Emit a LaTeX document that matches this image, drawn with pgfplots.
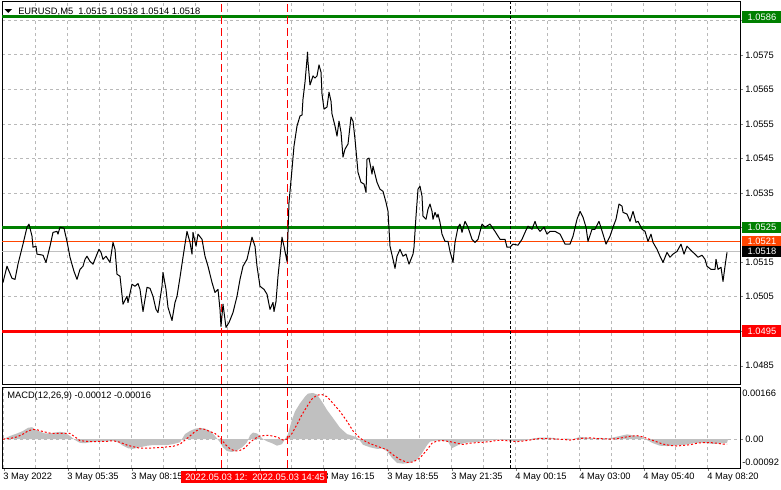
\documentclass[border=0pt]{standalone}
\usepackage{pgfplots}
\pgfplotsset{compat=1.18}
\usepackage{fontspec}
\setmainfont{Liberation Sans}
\definecolor{mtgreen}{RGB}{0,128,0}
\definecolor{mtorange}{RGB}{255,69,0}
\definecolor{mtred}{RGB}{255,0,0}
\definecolor{mtgrid}{RGB}{185,185,185}
\definecolor{mtsilver}{RGB}{192,192,192}
\newcommand\lab{\fontsize{7}{8.4}\selectfont}
\pgfplotsset{
  mt/.style={
    scale only axis, width=553.5pt, xmin=2, xmax=740, clip=false,
    axis line style={line width=0.75pt},
    scaled y ticks=false,
    tick align=outside, major tick length=2.25pt,
    ytick pos=right, yticklabel pos=right,
    yticklabel style={font=\lab, anchor=west, inner sep=0pt, xshift=1.5pt},
    grid style={mtgrid, line width=0.6pt, dash pattern=on 2.25pt off 2.25pt},
  },
}
\tikzset{
  lvl/.style={anchor=west, inner sep=0pt, minimum height=8.5pt, minimum width=29.5pt, font=\lab, text=white, xshift=1.5pt},
}
\begin{document}
\begin{tikzpicture}
\useasboundingbox (0,0) rectangle (585.75pt,-366.75pt);
\fill[white] (0,0) rectangle (585.75pt,-366.75pt);

% price panel
\begin{axis}[mt,
  at={(1.5pt,-0.75pt)}, anchor=north west, height=287.25pt,
  ymin=1.04797, ymax=1.05906,
  xmajorticks=false, xmajorgrids,
  xtick={35.7,67.7,99.7,131.7,163.7,195.7,227.7,259.7,291.7,323.7,355.7,387.7,419.7,451.7,483.7,515.7,547.7,579.7,611.7,643.7,675.7,707.7},
  ytick={1.0485,1.0495,1.0505,1.0515,1.0525,1.0535,1.0545,1.0555,1.0565,1.0575,1.0585},
  yticklabels={1.0485,{},1.0505,1.0515,{},1.0535,1.0545,1.0555,1.0565,1.0575,{}},
  ymajorgrids,
]
% levels
\addplot[mtsilver, line width=0.75pt] coordinates {(2,1.0518) (740,1.0518)};
\addplot[mtorange, line width=0.75pt] coordinates {(2,1.0521) (740,1.0521)};
\addplot[mtgreen, line width=2.25pt] coordinates {(2,1.0525) (740,1.0525)};
\addplot[mtgreen, line width=2.25pt] coordinates {(2,1.0586) (740,1.0586)};
\addplot[mtred, line width=2.25pt] coordinates {(2,1.0495) (740,1.0495)};
% vertical markers
\addplot[mtred, line width=0.75pt, dash pattern=on 6pt off 3pt] coordinates {(221,1.04797) (221,1.05906)};
\addplot[mtred, line width=0.75pt, dash pattern=on 6pt off 3pt] coordinates {(287,1.04797) (287,1.05906)};
\addplot[black, line width=0.75pt, dash pattern=on 2.25pt off 1.5pt] coordinates {(510,1.04797) (510,1.05906)};
% EURUSD M5 close
\addplot[black, line width=0.75pt, line join=round] coordinates {
(3,1.05091)(7,1.05138)(12,1.05103)(15,1.05100)(18,1.05144)(23,1.05202)(27,1.05251)(29,1.05260)(32,1.05225)(33,1.05193)
(36,1.05196)(37,1.05173)(43,1.05170)(46,1.05149)(50,1.05196)(53,1.05236)(57,1.05239)(58,1.05231)(60,1.05251)(64,1.05248)
(67,1.05210)(70,1.05164)(74,1.05123)(77,1.05100)(80,1.05129)(83,1.05138)(85,1.05158)(87,1.05167)(90,1.05152)(93,1.05144)
(97,1.05173)(99,1.05187)(101,1.05178)(103,1.05158)(106,1.05167)(108,1.05158)(110,1.05149)(113,1.05207)(115,1.05187)(117,1.05115)
(120,1.05109)(123,1.05028)(127,1.05051)(128,1.05033)(132,1.05086)(135,1.05080)(138,1.05088)(140,1.05071)(143,1.05007)(147,1.05077)
(150,1.05074)(153,1.05051)(156,1.05013)(158,1.05004)(162,1.05080)(163,1.05120)(166,1.05071)(168,1.05019)(172,1.04981)(175,1.05033)
(177,1.05051)(180,1.05106)(183,1.05164)(185,1.05202)(187,1.05239)(190,1.05207)(192,1.05173)(193,1.05236)(196,1.05196)(198,1.05231)
(202,1.05216)(205,1.05167)(208,1.05138)(212,1.05091)(215,1.05062)(218,1.05071)(220,1.05013)(221,1.04964)(223,1.05028)(226,1.04961)
(229,1.04975)(233,1.05004)(237,1.05051)(240,1.05100)(243,1.05138)(247,1.05158)(250,1.05196)(252,1.05222)(255,1.05196)(257,1.05138)
(260,1.05080)(264,1.05071)(267,1.05057)(270,1.05013)(273,1.05033)(274,1.05007)(276,1.05036)(278,1.05109)(282,1.05222)(284,1.05196)
(287,1.05152)(289,1.05323)(292,1.05419)(294,1.05486)(297,1.05544)(300,1.05573)(302,1.05576)(303,1.05622)(305,1.05671)(307,1.05738)
(307.5,1.05758)(308,1.05729)(310,1.05663)(312,1.05680)(313,1.05689)(315,1.05683)(317,1.05689)(319,1.05721)(321,1.05700)(322,1.05637)
(324,1.05593)(327,1.05599)(329,1.05642)(331,1.05616)(332,1.05579)(335,1.05544)(337,1.05515)(339,1.05558)(341,1.05526)(343,1.05454)
(345,1.05477)(348,1.05492)(351,1.05570)(353,1.05558)(355,1.05506)(358,1.05410)(361,1.05381)(364,1.05376)(366,1.05352)(367,1.05448)
(369,1.05451)(372,1.05405)(373,1.05428)(377,1.05381)(380,1.05361)(383,1.05355)(386,1.05323)(388,1.05297)(390,1.05196)(393,1.05158)
(395,1.05132)(397,1.05167)(400,1.05187)(403,1.05167)(406,1.05173)(409,1.05144)(413,1.05173)(414,1.05193)(416,1.05283)(418,1.05361)
(420,1.05370)(422,1.05341)(423,1.05283)(426,1.05274)(428,1.05303)(430,1.05318)(432,1.05297)(433,1.05274)(435,1.05294)(437,1.05280)
(438,1.05289)(440,1.05265)(442,1.05231)(445,1.05210)(448,1.05210)(450,1.05181)(453,1.05149)(455,1.05207)(458,1.05251)(460,1.05260)
(462,1.05236)(465,1.05268)(468,1.05251)(472,1.05216)(475,1.05207)(478,1.05216)(482,1.05260)(485,1.05251)(490,1.05260)(495,1.05239)
(500,1.05216)(505,1.05216)(507,1.05193)(510,1.05193)(513,1.05202)(518,1.05199)(522,1.05216)(525,1.05236)(528,1.05254)(532,1.05245)
(535,1.05268)(537,1.05251)(540,1.05239)(544,1.05251)(547,1.05231)(550,1.05239)(555,1.05239)(560,1.05231)(565,1.05202)(570,1.05202)
(573,1.05225)(577,1.05274)(580,1.05297)(583,1.05280)(586,1.05251)(588,1.05210)(592,1.05245)(595,1.05245)(599,1.05268)(603,1.05231)
(606,1.05202)(610,1.05225)(613,1.05251)(616,1.05274)(619,1.05318)(622,1.05312)(623,1.05294)(627,1.05289)(630,1.05268)(633,1.05297)
(636,1.05265)(638,1.05268)(642,1.05245)(645,1.05239)(648,1.05210)(651,1.05231)(653,1.05207)(657,1.05187)(660,1.05167)(663,1.05149)
(667,1.05178)(670,1.05164)(673,1.05173)(677,1.05181)(681,1.05202)(684,1.05173)(687,1.05196)(692,1.05181)(695,1.05173)(698,1.05164)
(702,1.05170)(705,1.05158)(707,1.05138)(711,1.05129)(715,1.05129)(716,1.05158)(718,1.05129)(721,1.05135)(723,1.05094)(725,1.05138)
(727,1.05178)
};
% price scale tags
\node[lvl, fill=mtgreen] at (axis cs:740,1.0586) {1.0586};
\node[lvl, fill=mtgreen] at (axis cs:740,1.0525) {1.0525};
\node[lvl, fill=mtorange] at (axis cs:740,1.0521) {1.0521};
\node[lvl, fill=black] at (axis cs:740,1.0518) {1.0518};
\node[lvl, fill=mtred] at (axis cs:740,1.0495) {1.0495};
\end{axis}

% MACD panel
\begin{axis}[mt,
  at={(1.5pt,-290.25pt)}, anchor=north west, height=60.75pt,
  ymin=-0.00092, ymax=0.00166,
  ytick={0}, yticklabels={0.00}, ymajorgrids,
  xtick={3.7,67.7,131.7,195.7,259.7,323.7,387.7,451.7,515.7,579.7,643.7,707.7},
  xticklabels={3 May 2022,3 May 05:35,3 May 08:15,{},{},3 May 16:15,3 May 18:55,3 May 21:35,4 May 00:15,4 May 03:00,4 May 05:40,4 May 08:20},
  minor xtick={35.7,99.7,163.7,227.7,291.7,355.7,419.7,483.7,547.7,611.7,675.7},
  minor tick length=0pt,
  xmajorgrids, xminorgrids, minor grid style={mtgrid, line width=0.6pt, dash pattern=on 2.25pt off 2.25pt},
  xtick pos=bottom,
  xticklabel style={font=\lab, anchor=north west, inner sep=0pt, xshift=-0.5pt, yshift=-1.5pt},
]
% MACD histogram
\addplot[fill=mtsilver, draw=none] coordinates {
(3,0)(10,0.00010)(17,0.00018)(23,0.00026)(28,0.00036)(32,0.00038)(35,0.00031)(40,0.00024)(45,0.00018)(50,0.00018)
(55,0.00021)(60,0.00023)(65,0.00021)(70,0.00010)(75,-0.00003)(80,-0.00012)(85,-0.00013)(90,-0.00010)(95,-0.00008)(100,-0.00008)
(107,-0.00007)(113,-0.00005)(118,-0.00010)(123,-0.00021)(128,-0.00029)(133,-0.00031)(140,-0.00026)(147,-0.00021)(153,-0.00019)(160,-0.00019)
(167,-0.00019)(173,-0.00016)(180,-0.00010)(185,0.00016)(190,0.00026)(195,0.00033)(200,0.00036)(205,0.00033)(210,0.00026)(215,0.00010)
(220,-0.00010)(223,-0.00026)(227,-0.00038)(232,-0.00041)(237,-0.00036)(242,-0.00026)(247,-0.00010)(250,0.00012)(253,0.00021)(257,0.00018)
(260,0.00010)(263,0)(267,-0.00007)(272,-0.00013)(277,-0.00021)(282,-0.00016)(285,0)(288,0.00016)(292,0.00062)(295,0.00088)
(300,0.00114)(305,0.00135)(308,0.00145)(313,0.00147)(317,0.00142)(322,0.00119)(327,0.00093)(333,0.00067)(340,0.00036)(347,0.00016)
(353,0.00010)(357,0.00005)(360,-0.00005)(363,-0.00018)(370,-0.00026)(377,-0.00031)(383,-0.00030)(387,-0.00039)(392,-0.00060)(397,-0.00076)
(403,-0.00078)(410,-0.00076)(417,-0.00065)(422,-0.00045)(427,-0.00019)(430,-0.00008)(435,-0.00005)(442,-0.00005)(448,-0.00008)(452,-0.00029)
(455,-0.00024)(460,-0.00016)(467,-0.00011)(473,-0.00010)(480,-0.00008)(487,-0.00006)(493,-0.00003)(500,-0.00001)(507,-0.00003)(513,-0.00006)
(520,-0.00006)(527,-0.00003)(533,0.00002)(540,0.00005)(547,0.00005)(553,0.00004)(560,0)(567,0.00002)(573,0)(580,0.00007)
(587,0.00005)(593,0.00002)(600,0.00004)(607,0.00002)(613,0.00005)(620,0.00010)(627,0.00015)(633,0.00012)(640,0.00009)(647,-0.00003)
(653,-0.00013)(660,-0.00021)(667,-0.00022)(673,-0.00021)(680,-0.00019)(687,-0.00017)(693,-0.00013)(700,-0.00011)(707,-0.00013)(713,-0.00015)
(720,-0.00014)(727,-0.00012)(728,0)
} \closedcycle;
% signal line
\addplot[mtred, line width=0.75pt, dash pattern=on 1.5pt off 1.5pt] coordinates {
(3,0)(10,0.00002)(17,0.00007)(23,0.00016)(28,0.00026)(33,0.00031)(38,0.00029)(43,0.00024)(50,0.00019)(57,0.00018)
(63,0.00018)(70,0.00018)(75,0.00007)(80,-0.00005)(87,-0.00007)(93,-0.00008)(100,-0.00007)(107,-0.00007)(113,-0.00005)(120,-0.00010)
(127,-0.00019)(133,-0.00024)(140,-0.00029)(147,-0.00029)(153,-0.00028)(163,-0.00026)(173,-0.00023)(180,-0.00016)(185,-0.00003)(190,0.00010)
(195,0.00024)(200,0.00033)(205,0.00031)(210,0.00024)(215,0.00018)(220,0.00005)(225,-0.00016)(230,-0.00031)(235,-0.00038)(240,-0.00036)
(245,-0.00028)(250,-0.00010)(255,0.00002)(260,0.00010)(267,0.00012)(273,0.00010)(278,0.00005)(283,-0.00003)(287,0)(292,0.00018)
(297,0.00047)(302,0.00078)(307,0.00104)(312,0.00128)(317,0.00140)(322,0.00142)(327,0.00135)(333,0.00114)(340,0.00088)(347,0.00057)
(353,0.00026)(360,0.00003)(367,-0.00010)(373,-0.00018)(380,-0.00026)(387,-0.00034)(393,-0.00050)(400,-0.00065)(407,-0.00074)(413,-0.00073)
(420,-0.00060)(427,-0.00034)(432,-0.00013)(437,-0.00006)(443,-0.00005)(450,-0.00008)(457,-0.00013)(463,-0.00017)(470,-0.00013)(477,-0.00011)
(483,-0.00010)(490,-0.00008)(497,-0.00004)(503,-0.00004)(510,-0.00006)(517,-0.00008)(523,-0.00006)(530,-0.00003)(537,0.00001)(543,0.00002)
(550,0.00001)(557,0)(563,-0.00001)(570,-0.00003)(577,0)(583,0.00003)(590,0.00004)(597,0.00002)(603,0.00001)(610,0)
(617,0.00001)(623,0.00005)(630,0.00009)(637,0.00011)(643,0.00007)(650,-0.00001)(657,-0.00009)(663,-0.00016)(670,-0.00020)(677,-0.00022)
(683,-0.00020)(690,-0.00018)(697,-0.00013)(703,-0.00011)(710,-0.00011)(717,-0.00013)(723,-0.00016)(727,-0.00016)
};
\addplot[mtred, line width=0.75pt, dash pattern=on 6pt off 3pt] coordinates {(221,-0.00092) (221,0.00166)};
\addplot[mtred, line width=0.75pt, dash pattern=on 6pt off 3pt] coordinates {(287,-0.00092) (287,0.00166)};
\addplot[black, line width=0.75pt, dash pattern=on 2.25pt off 1.5pt] coordinates {(510,-0.00092) (510,0.00166)};
\node[anchor=west, inner sep=0pt, font=\lab, xshift=1.5pt, yshift=-4.5pt] at (axis cs:740,0.00166) {0.00166};
\node[anchor=west, inner sep=0pt, font=\lab, xshift=1.5pt, yshift=4.5pt] at (axis cs:740,-0.00092) {-0.00092};
\end{axis}

% titles
\fill (3.4pt,-6.9pt) -- (9pt,-6.9pt) -- (6.2pt,-9.6pt) -- cycle;
\node[anchor=base west, inner sep=0pt, font=\lab] at (13.5pt,-10.5pt) {EURUSD,M5\ \ 1.0515 1.0518 1.0514 1.0518};
\node[anchor=base west, inner sep=0pt, font=\lab] at (5.25pt,-298.5pt) {MACD(12,26,9) -0.00012 -0.00016};
% time tags of the vertical lines
\fill[mtred] (135.75pt,-353.6pt) rectangle (186.75pt,-362.6pt);
\node[anchor=west, inner sep=0pt, font=\lab, text=white] at (138.75pt,-358.1pt) {2022.05.03 12:};
\fill[mtred] (186.75pt,-353.6pt) rectangle (245.25pt,-362.6pt);
\node[anchor=west, inner sep=0pt, font=\lab, text=white] at (189pt,-358.1pt) {2022.05.03 14:45};
\end{tikzpicture}
\end{document}
